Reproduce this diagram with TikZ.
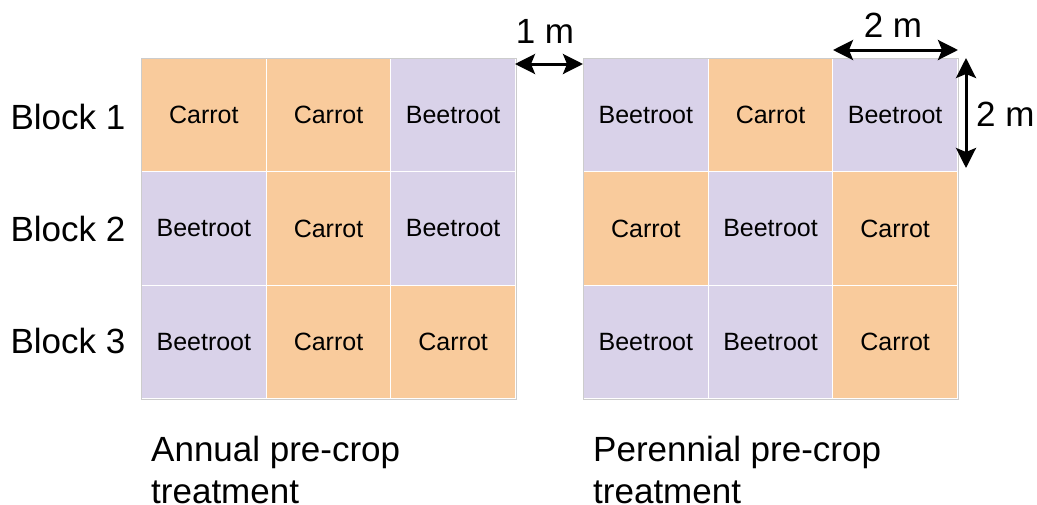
\documentclass[tikz,border=0pt]{standalone}
\usepackage{fontspec}
\setmainfont{Liberation Sans}
\usetikzlibrary{arrows.meta}
\definecolor{carrotc}{HTML}{F9CB9C}
\definecolor{beetc}{HTML}{D9D2E9}
\definecolor{gridedge}{HTML}{CCCCCC}
\tikzset{
  cell/.style={draw=white, line width=1pt, minimum width=124.67pt, minimum height=113.33pt, inner sep=0pt, anchor=north west, font=\fontsize{25}{30}\selectfont},
  carrot/.style={cell, fill=carrotc},
  beet/.style={cell, fill=beetc},
  biglabel/.style={font=\fontsize{35}{42}\selectfont, inner sep=0pt},
  gridframe/.style={draw=gridedge, line width=1pt},
  dimarrow/.style={line width=3pt, {Stealth[length=20pt,width=20pt,inset=4pt]}-{Stealth[length=20pt,width=20pt,inset=4pt]}}
}
\begin{document}
\begin{tikzpicture}[x=1pt,y=-1pt]
\useasboundingbox (0,0) rectangle (1037,504);
% left grid
\node[carrot] (L11) at (141,58) {Carrot};
\node[carrot] (L12) at (265.67,58) {Carrot};
\node[beet]   (L13) at (390.33,58) {Beetroot};
\node[beet]   (L21) at (141,171.33) {Beetroot};
\node[carrot] (L22) at (265.67,171.33) {Carrot};
\node[beet]   (L23) at (390.33,171.33) {Beetroot};
\node[beet]   (L31) at (141,284.67) {Beetroot};
\node[carrot] (L32) at (265.67,284.67) {Carrot};
\node[carrot] (L33) at (390.33,284.67) {Carrot};
\draw[gridframe] (L11.north west) rectangle (L33.south east);
% right grid
\node[beet]   (R11) at (583,58) {Beetroot};
\node[carrot] (R12) at (707.67,58) {Carrot};
\node[beet]   (R13) at (832.33,58) {Beetroot};
\node[carrot] (R21) at (583,171.33) {Carrot};
\node[beet]   (R22) at (707.67,171.33) {Beetroot};
\node[carrot] (R23) at (832.33,171.33) {Carrot};
\node[beet]   (R31) at (583,284.67) {Beetroot};
\node[beet]   (R32) at (707.67,284.67) {Beetroot};
\node[carrot] (R33) at (832.33,284.67) {Carrot};
\draw[gridframe] (R11.north west) rectangle (R33.south east);
% block labels
\node[biglabel] (b1) at (68,117) {Block 1};
\node[biglabel] (b2) at (68,229) {Block 2};
\node[biglabel] (b3) at (68,341) {Block 3};
% bottom labels
\node[biglabel, anchor=base west, align=left] (ann) at (151,503) {Annual pre-crop\\treatment};
\node[biglabel, anchor=base west, align=left] (per) at (593,503) {Perennial pre-crop\\treatment};
% dimension arrows
\coordinate (gapL) at (515,64);
\coordinate (gapR) at (583,64);
\draw[dimarrow] (gapL) -- (gapR);
\node[biglabel, anchor=base] (one) at (545,43) {1 m};
\coordinate (topL) at (833,50);
\coordinate (topR) at (958,50);
\draw[dimarrow] (topL) -- (topR);
\node[biglabel, anchor=base] (two) at (893,37) {2 m};
\coordinate (vT) at (966,58);
\coordinate (vB) at (966,168);
\draw[dimarrow] (vT) -- (vB);
\node[biglabel, anchor=base west] (twov) at (976,126) {2 m};
\end{tikzpicture}
\end{document}
